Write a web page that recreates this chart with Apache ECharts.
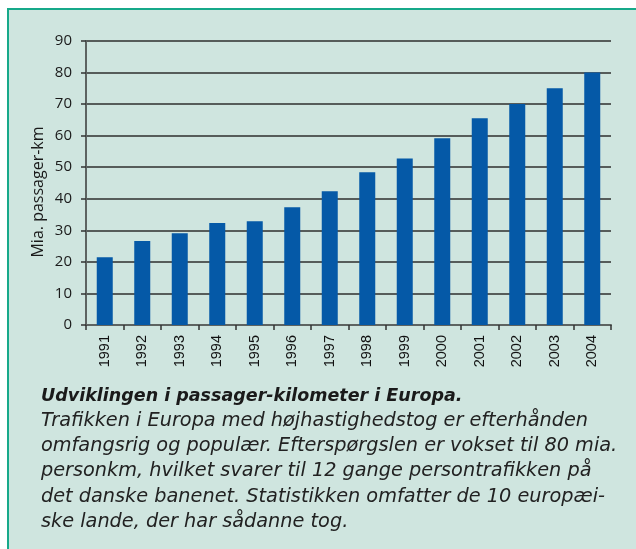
<!DOCTYPE html>
<html>
<head>
<meta charset="utf-8">
<script src="https://cdn.jsdelivr.net/npm/echarts@6/dist/echarts.min.js"></script>
<style>
  html, body { margin: 0; padding: 0; background: #fff; }
  #panel {
    position: absolute; left: 7px; top: 8px; right: 0; bottom: 0;
    background: #cfe5df;
    border-left: 2px solid #17a98a;
    border-top: 2px solid #17a98a;
  }
  #main { position: absolute; left: 0; top: 0; width: 636px; height: 549px; }
</style>
</head>
<body>
<div id="panel"></div>
<div id="main"></div>
<script>
var years = ['1991', '1992', '1993', '1994', '1995', '1996', '1997',
  '1998', '1999', '2000', '2001', '2002', '2003', '2004']
var passagerKm = [21.5, 26.6, 29.1, 32.3, 32.9, 37.3, 42.4,
  48.4, 52.8, 59.2, 65.5, 70, 75, 80]
var yName = 'Mia. passager-km'
var captionTitle = 'Udviklingen i passager-kilometer i Europa.'
var captionLines = [
  'Trafikken i Europa med højhastighedstog er efterhånden',
  'omfangsrig og populær. Efterspørgslen er vokset til 80 mia.',
  'personkm, hvilket svarer til 12 gange persontrafikken på',
  'det danske banenet. Statistikken omfatter de 10 europæi-',
  'ske lande, der har sådanne tog.'
]

var myChart = echarts.init(document.getElementById('main'))

var captionFont = '"DejaVu Sans", sans-serif'
var graphics = [
  {
    type: 'text',
    x: 38,
    y: 192,
    rotation: Math.PI / 2,
    style: {
      text: yName,
      fill: '#1a1a1a',
      fontSize: 16,
      fontFamily: '"Open Sans", sans-serif',
      textAlign: 'center',
      textVerticalAlign: 'middle'
    }
  },
  {
    type: 'text',
    x: 41,
    y: 396,
    style: {
      text: captionTitle,
      fill: '#1a1a1a',
      fontSize: 17.5,
      fontStyle: 'italic',
      fontWeight: 'bold',
      fontFamily: captionFont,
      textVerticalAlign: 'middle'
    }
  }
]
// caption lines, one per row
for (var i = 0; i < captionLines.length; i++) {
  graphics.push({
    type: 'text',
    x: 41,
    y: 421 + i * 25.2,
    style: {
      text: captionLines[i],
      fill: '#222',
      fontSize: 19.3,
      fontStyle: 'italic',
      fontFamily: captionFont,
      textVerticalAlign: 'middle'
    }
  })
}

var option = {
  animation: false,
  backgroundColor: 'transparent',
  grid: { left: 86, right: 25, top: 41, bottom: 224, containLabel: false },
  xAxis: {
    type: 'category',
    data: years,
    axisLine: { lineStyle: { color: '#5d6361', width: 2 } },
    axisTick: { show: true, length: 5, lineStyle: { color: '#333', width: 1.5 } },
    axisLabel: {
      rotate: 90,
      margin: 10,
      color: '#111',
      fontSize: 14.5,
      fontFamily: '"Liberation Sans", Arial, sans-serif'
    }
  },
  yAxis: {
    type: 'value',
    min: 0,
    max: 90,
    interval: 10,
    axisLine: { show: true, lineStyle: { color: '#5d6361', width: 2 } },
    axisTick: { show: true, length: 5, lineStyle: { color: '#333', width: 1.5 } },
    axisLabel: {
      margin: 14,
      color: '#1a1a1a',
      fontSize: 15,
      fontFamily: '"Open Sans", sans-serif'
    },
    splitLine: { show: true, lineStyle: { color: '#2e2e2e', width: 1.5 } }
  },
  series: [
    {
      type: 'bar',
      data: passagerKm,
      barWidth: 16,
      itemStyle: { color: '#0559a7' }
    }
  ],
  graphic: graphics
}
myChart.setOption(option)
</script>
</body>
</html>
